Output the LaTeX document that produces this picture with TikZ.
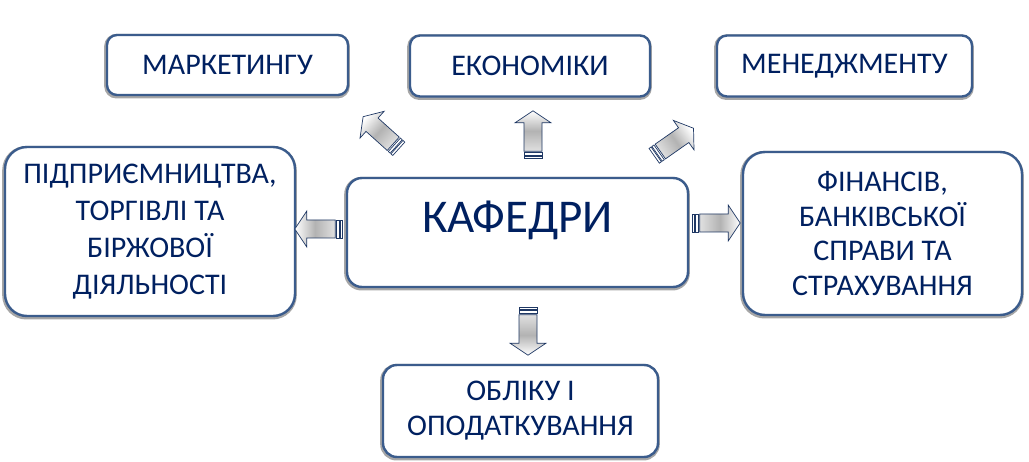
\documentclass[tikz,border=0pt]{standalone}
\usepackage{fontspec}
\setmainfont{Carlito}
\definecolor{boxblue}{RGB}{59,92,140}
\definecolor{textnavy}{RGB}{0,32,96}
\definecolor{arrowline}{RGB}{31,56,100}

\tikzset{
  deptbox/.style={draw=boxblue, line width=2.4pt, fill=white, align=center,
    text=textnavy, inner sep=0pt, font=\fontsize{30}{37}\selectfont,
    preaction={draw=black!35, line width=4.6pt,
      transform canvas={shift={(-0.5pt,-1.2pt)}}}},
  pics/stripearrow/.style={code={
    \pgfmathsetmacro\shadeang{#1-90}
    \begin{scope}[rotate=#1, draw=arrowline, line width=0.7pt]
      \shadedraw[top color=white, bottom color=black!12, middle color=black!30,
        shading angle=\shadeang]
        (7.5,-9) -- (36,-9) -- (36,-18) -- (48,0) -- (36,18) -- (36,9) -- (7.5,9) -- cycle;
      \filldraw[fill=white] (0,-9) rectangle (2.5,9);
      \filldraw[fill=white] (3.5,-9) rectangle (6,9);
    \end{scope}
  }}
}

\begin{document}
\begin{tikzpicture}[x=1pt, y=-1pt]
\useasboundingbox (0,0) rectangle (1029,462);

\node[deptbox, rounded corners=10pt, minimum width=241pt, minimum height=60pt] (mark) at (227.5,65) {МАРКЕТИНГУ};
\node[deptbox, rounded corners=10pt, minimum width=240pt, minimum height=61pt] (econ) at (530,66) {ЕКОНОМІКИ};
\node[deptbox, rounded corners=10pt, minimum width=255pt, minimum height=61pt] (mened) at (844.5,66) {МЕНЕДЖМЕНТУ};

\node[deptbox, rounded corners=22pt, minimum width=290pt, minimum height=169pt] (pidpr) at (150,231.5)
  {ПІДПРИЄМНИЦТВА,\\ТОРГІВЛІ ТА\\БІРЖОВОЇ\\ДІЯЛЬНОСТІ};
\node[deptbox, rounded corners=22pt, minimum width=279pt, minimum height=163pt,
  font=\fontsize{30}{34.5}\selectfont] (fin) at (882.5,233.5)
  {ФІНАНСІВ,\\БАНКІВСЬКОЇ\\СПРАВИ ТА\\СТРАХУВАННЯ};

\node[deptbox, rounded corners=15pt, minimum width=341pt, minimum height=109pt] (kaf) at (517.5,232.5) {};
\node[text=textnavy, inner sep=0pt, font=\fontsize{47}{50}\selectfont] (kafname) at (517.5,220) {КАФЕДРИ};

\node[deptbox, rounded corners=14pt, minimum width=275pt, minimum height=92pt,
  font=\fontsize{30}{35}\selectfont] (obl) at (520.5,411) {ОБЛІКУ І\\ОПОДАТКУВАННЯ};

% arrows out of the centre box
\pic at ([shift={(-3pt,3.5pt)}]kaf.west) {stripearrow=180};
\pic at ([shift={(3pt,9.5pt)}]kaf.east) {stripearrow=0};
\pic at ([shift={(15.5pt,18pt)}]kaf.north) {stripearrow=90};
\pic at ([shift={(10.5pt,-19pt)}]kaf.south) {stripearrow=-90};
\pic at ([shift={(53pt,28pt)}]kaf.north west) {stripearrow=138};
\pic at ([shift={(-35pt,21pt)}]kaf.north east) {stripearrow=35};

\end{tikzpicture}
\end{document}
